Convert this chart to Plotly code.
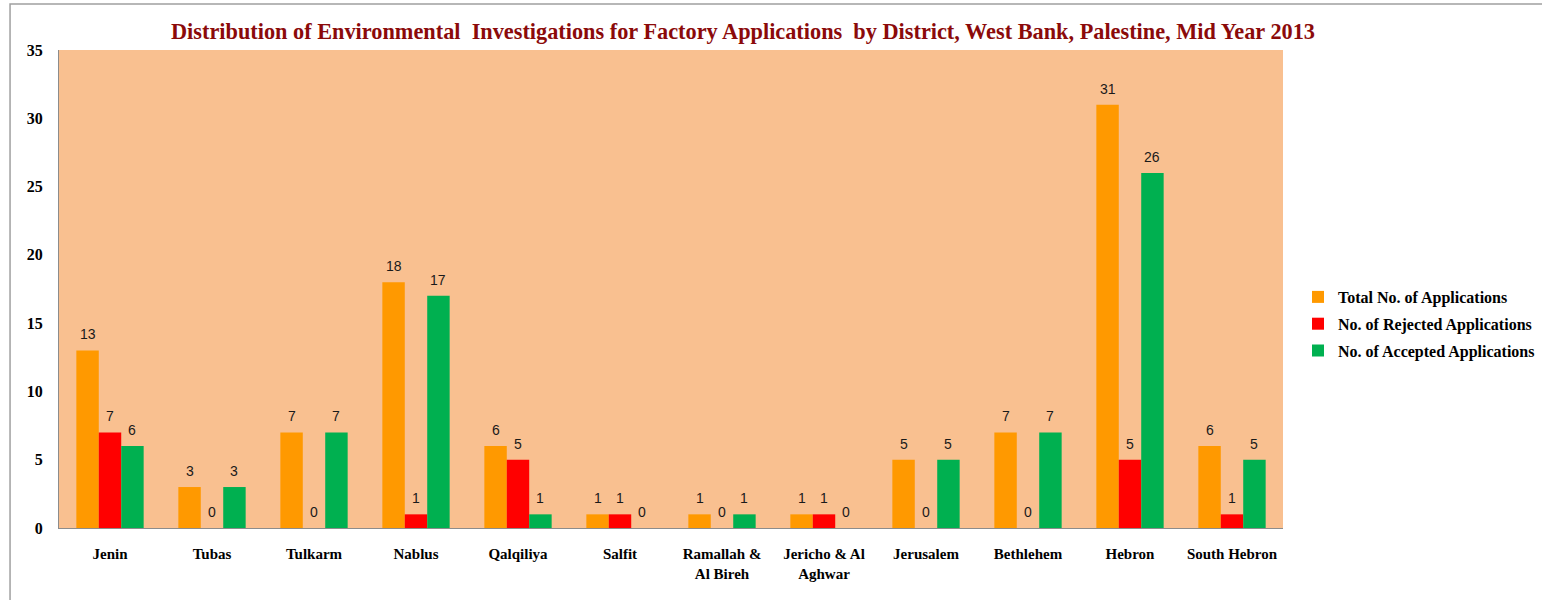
import plotly.graph_objects as go

districts = ["Jenin", "Tubas", "Tulkarm", "Nablus", "Qalqiliya", "Salfit",
             "Ramallah &<br>Al Bireh", "Jericho & Al<br>Aghwar", "Jerusalem",
             "Bethlehem", "Hebron", "South Hebron"]
total = [13, 3, 7, 18, 6, 1, 1, 1, 5, 7, 31, 6]
rejected = [7, 0, 0, 1, 5, 1, 0, 1, 0, 0, 5, 1]
accepted = [6, 3, 7, 17, 1, 0, 1, 0, 5, 7, 26, 5]

series = [
    ("Total No. of Applications", total, "#FF9900"),
    ("No. of Rejected Applications", rejected, "#FF0000"),
    ("No. of Accepted Applications", accepted, "#00B050"),
]

BARGAP = 0.34
serif_bold = "Liberation Serif, Times New Roman"
W, H = 1542, 600

fig = go.Figure()
annotations = []
n = len(series)
bw = (1 - BARGAP) / n
for k, (name, vals, color) in enumerate(series):
    fig.add_trace(go.Bar(
        x=list(range(len(districts))), y=vals, name="<b>" + name + "</b>",
        legendgroup=name,
        marker=dict(color=color, line=dict(width=0)),
        hoverinfo="x+y",
    ))
    for i, v in enumerate(vals):
        annotations.append(dict(
            x=i + (k - (n - 1) / 2) * bw, y=v, xref="x", yref="y",
            text=str(v), showarrow=False, yanchor="middle", yshift=16,
            font=dict(family="Liberation Sans, Arial", size=14, color="#1a1a1a"),
        ))

fig.update_layout(
    width=W, height=H,
    margin=dict(l=59, r=259, t=50, b=72, autoexpand=False),
    paper_bgcolor="white",
    plot_bgcolor="#F9C090",
    barmode="group", bargap=BARGAP, bargroupgap=0,
    title=dict(
        text="<b>Distribution of Environmental  Investigations for Factory Applications  by District, West Bank, Palestine, Mid Year 2013</b>",
        font=dict(family=serif_bold, size=22.3, color="#8B0A0A"),
        x=743 / W, xanchor="center", xref="container",
        y=1 - 31 / H, yanchor="middle", yref="container",
    ),
    legend=dict(
        x=(1298 - 59) / 1224, xanchor="left", y=(528 - 324) / 478, yanchor="middle",
        font=dict(family=serif_bold, size=16, color="black"),
        bgcolor="rgba(0,0,0,0)", itemwidth=30, tracegroupgap=3,
        traceorder="grouped",
    ),
    showlegend=True,
    annotations=annotations,
    shapes=[dict(type="rect", xref="paper", yref="paper",
                 x0=-0.04, x1=2, y0=-1, y1=1.096,
                 line=dict(color="#A0A0A0", width=1.5), fillcolor="rgba(0,0,0,0)", layer="below")],
)
fig.update_yaxes(
    range=[0, 35], dtick=5, showgrid=False, zeroline=False,
    showline=True, linecolor="#8C8C8C", linewidth=1,
    tickfont=dict(family=serif_bold, size=16, color="black"),
    ticks="", ticklabelstandoff=12, tickformat="d",
    tickprefix="<b>", ticksuffix="</b>",
)
fig.update_xaxes(
    tickmode="array", tickvals=list(range(len(districts))),
    ticktext=["<b>" + d.replace("<br>", "</b><br><b>") + "</b>" for d in districts],
    range=[-0.5, len(districts) - 0.5],
    showgrid=False, showline=True, linecolor="#8C8C8C", linewidth=1,
    tickfont=dict(family=serif_bold, size=15, color="black"),
    ticks="", ticklabelstandoff=12,
)

fig.write_html(
    "out.html",
    config={"displayModeBar": False},
    post_script="document.body.style.margin='0';document.body.style.overflow='hidden';",
)
